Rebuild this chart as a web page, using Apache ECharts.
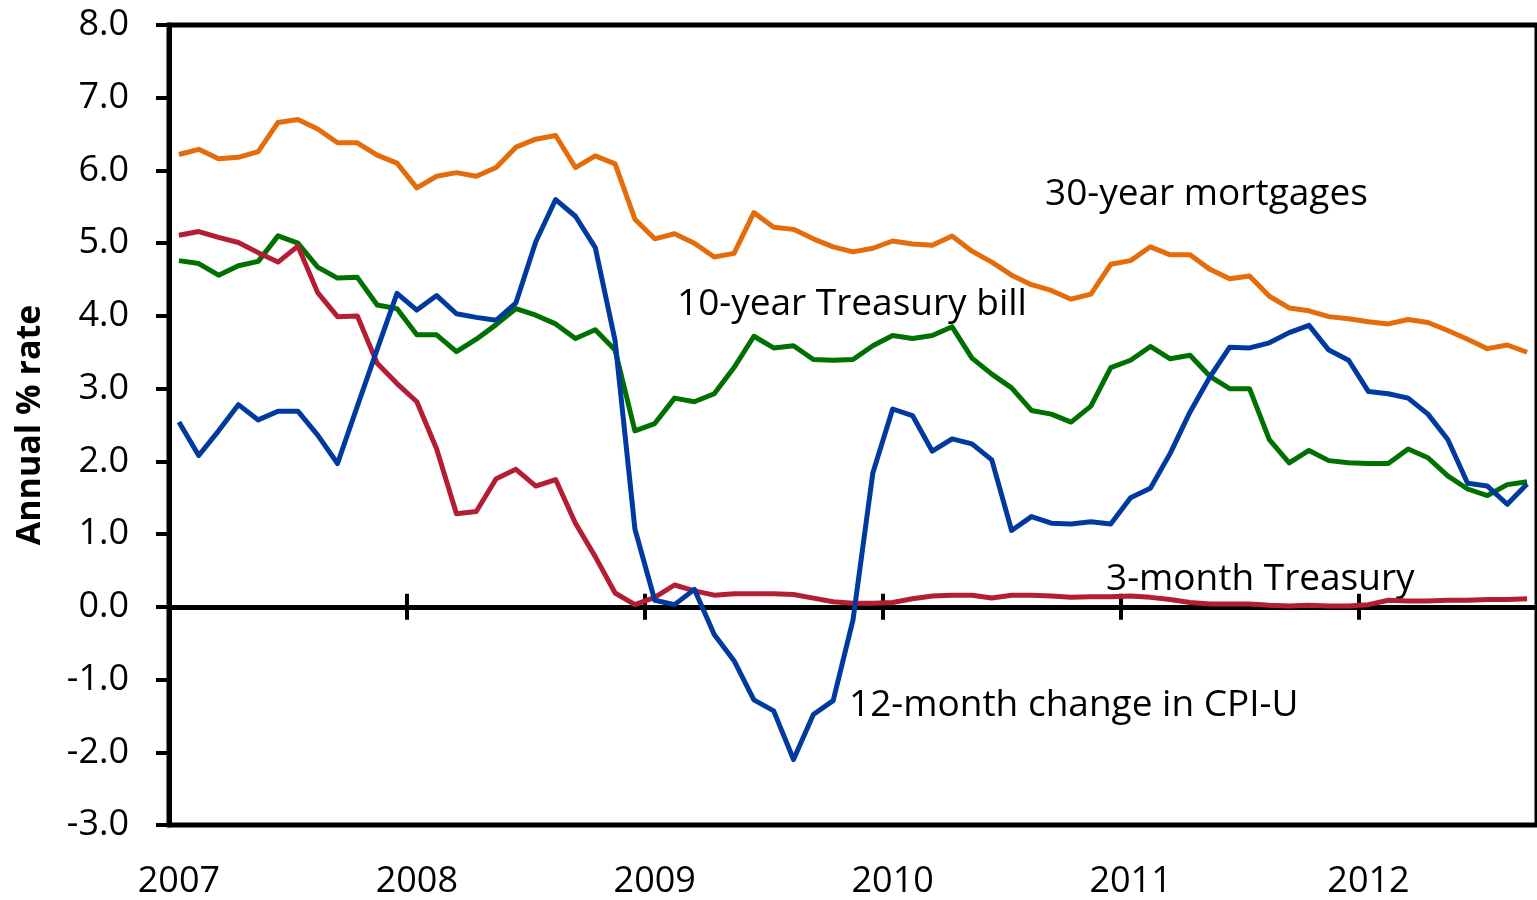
<!DOCTYPE html>
<html>
<head>
<meta charset="utf-8">
<script src="https://cdn.jsdelivr.net/npm/echarts@6/dist/echarts.min.js"></script>
<style>
    html, body { margin: 0; padding: 0; background: #fff; }
    #chart--rates { width: 1537px; height: 900px; }
</style>
</head>
<body>
<div id="chart--rates"></div>
<script>
const years = ['2007', '2008', '2009', '2010', '2011', '2012'];
const monthCount = 69;
const yTicks = { min: -3, max: 8, interval: 1 };

const mortgage30 = [
    6.22, 6.29, 6.16, 6.18, 6.26, 6.66, 6.70, 6.57, 6.38, 6.38, 6.21, 6.10,
    5.76, 5.92, 5.97, 5.92, 6.04, 6.32, 6.43, 6.48, 6.04, 6.20, 6.09, 5.33,
    5.06, 5.13, 5.00, 4.81, 4.86, 5.42, 5.22, 5.19, 5.06, 4.95, 4.88, 4.93,
    5.03, 4.99, 4.97, 5.10, 4.89, 4.74, 4.56, 4.43, 4.35, 4.23, 4.30, 4.71,
    4.76, 4.95, 4.84, 4.84, 4.64, 4.51, 4.55, 4.27, 4.11, 4.07, 3.99, 3.96,
    3.92, 3.89, 3.95, 3.91, 3.80, 3.68, 3.55, 3.60, 3.50
];
const treasury10 = [
    4.76, 4.72, 4.56, 4.69, 4.75, 5.10, 5.00, 4.67, 4.52, 4.53, 4.15, 4.10,
    3.74, 3.74, 3.51, 3.68, 3.88, 4.10, 4.01, 3.89, 3.69, 3.81, 3.53, 2.42,
    2.52, 2.87, 2.82, 2.93, 3.29, 3.72, 3.56, 3.59, 3.40, 3.39, 3.40, 3.59,
    3.73, 3.69, 3.73, 3.85, 3.42, 3.20, 3.01, 2.70, 2.65, 2.54, 2.76, 3.29,
    3.39, 3.58, 3.41, 3.46, 3.17, 3.00, 3.00, 2.30, 1.98, 2.15, 2.01, 1.98,
    1.97, 1.97, 2.17, 2.05, 1.80, 1.62, 1.53, 1.68, 1.72
];
const treasury3m = [
    5.11, 5.16, 5.08, 5.01, 4.87, 4.74, 4.96, 4.32, 3.99, 4.00, 3.35, 3.07,
    2.82, 2.17, 1.28, 1.31, 1.76, 1.89, 1.66, 1.75, 1.15, 0.69, 0.19, 0.03,
    0.13, 0.30, 0.22, 0.16, 0.18, 0.18, 0.18, 0.17, 0.12, 0.07, 0.05, 0.05,
    0.06, 0.11, 0.15, 0.16, 0.16, 0.12, 0.16, 0.16, 0.15, 0.13, 0.14, 0.14,
    0.15, 0.13, 0.10, 0.06, 0.04, 0.04, 0.04, 0.02, 0.01, 0.02, 0.01, 0.01,
    0.03, 0.09, 0.08, 0.08, 0.09, 0.09, 0.10, 0.10, 0.11
];
const cpiChange = [
    2.54, 2.08, 2.42, 2.78, 2.57, 2.69, 2.69, 2.36, 1.97, 2.76, 3.54, 4.31,
    4.08, 4.28, 4.03, 3.98, 3.94, 4.18, 5.02, 5.60, 5.37, 4.94, 3.66, 1.07,
    0.09, 0.03, 0.24, -0.38, -0.74, -1.28, -1.43, -2.10, -1.48, -1.29, -0.18, 1.84,
    2.72, 2.63, 2.14, 2.31, 2.24, 2.02, 1.05, 1.24, 1.15, 1.14, 1.17, 1.14,
    1.50, 1.63, 2.11, 2.68, 3.16, 3.57, 3.56, 3.63, 3.77, 3.87, 3.53, 3.39,
    2.96, 2.93, 2.87, 2.65, 2.30, 1.70, 1.66, 1.41, 1.69
];

const annotations = [
    { text: '30-year mortgages', x: 1045, y: 192 },
    { text: '10-year Treasury bill', x: 677, y: 302 },
    { text: '3-month Treasury', x: 1106, y: 577 },
    { text: '12-month change in CPI-U', x: 849, y: 703 }
];

const months = [];
for (let i = 0; i < monthCount; i++) {
    months.push(years[Math.floor(i / 12)] + '-' + String((i % 12) + 1).padStart(2, '0'));
}

const fontFamily = '"Open Sans", "Noto Sans", sans-serif';
const gridRect = { left: 169, top: 25, width: 1371, height: 800 };
// same plot, nudged up so its zero-line ticks straddle the real zero line
const tickGridRect = { left: 169, top: 12, width: 1371, height: 800 };

const chart = echarts.init(document.querySelector('#chart--rates'), null, { renderer: 'canvas' });

function lineSeries(name, data, color) {
    return {
        name,
        type: 'line',
        data,
        xAxisIndex: 0,
        yAxisIndex: 0,
        showSymbol: false,
        symbol: 'none',
        lineStyle: { color, width: 5, join: 'round' },
        itemStyle: { color },
        animation: false
    };
}

chart.setOption({
    animation: false,
    backgroundColor: '#fff',
    grid: [
        Object.assign({ show: true, borderColor: '#000', borderWidth: 5, backgroundColor: 'transparent' }, gridRect),
        Object.assign({ show: false }, tickGridRect)
    ],
    xAxis: [
        {
            // zero line
            type: 'category',
            gridIndex: 0,
            data: months,
            position: 'top',
            boundaryGap: true,
            axisLine: { onZero: true, lineStyle: { color: '#000', width: 5 } },
            axisTick: { show: false },
            axisLabel: { show: false },
            splitLine: { show: false }
        },
        {
            // year labels along the bottom
            type: 'category',
            gridIndex: 0,
            data: months,
            position: 'bottom',
            boundaryGap: true,
            axisLine: { show: false, onZero: false },
            axisTick: { show: false },
            axisLabel: {
                interval: 11,
                margin: 39,
                color: '#000',
                fontSize: 36,
                fontFamily,
                formatter: (value) => value.slice(0, 4)
            },
            splitLine: { show: false }
        },
        {
            // year ticks crossing the zero line
            type: 'category',
            gridIndex: 1,
            data: months,
            position: 'bottom',
            boundaryGap: true,
            axisLine: { show: false, onZero: true },
            axisTick: { show: true, interval: 11, inside: false, length: 26, lineStyle: { color: '#000', width: 4 } },
            axisLabel: { show: false },
            splitLine: { show: false }
        }
    ],
    yAxis: [
        {
            type: 'value',
            gridIndex: 0,
            min: yTicks.min,
            max: yTicks.max,
            interval: yTicks.interval,
            name: 'Annual % rate',
            nameLocation: 'middle',
            nameRotate: 90,
            nameGap: 122,
            nameTextStyle: { color: '#000', fontSize: 34, fontWeight: 'bold', fontFamily },
            axisLine: { show: true, onZero: false, lineStyle: { color: '#000', width: 5 } },
            axisTick: { show: true, inside: false, length: 13, lineStyle: { color: '#000', width: 4 } },
            axisLabel: {
                margin: 40,
                color: '#000',
                fontSize: 36,
                fontFamily,
                formatter: (value) => value.toFixed(1)
            },
            splitLine: { show: false }
        },
        {
            type: 'value',
            gridIndex: 1,
            min: yTicks.min,
            max: yTicks.max,
            interval: yTicks.interval,
            axisLine: { show: false, onZero: false },
            axisTick: { show: false },
            axisLabel: { show: false },
            splitLine: { show: false }
        }
    ],
    graphic: annotations.map((item) => ({
        type: 'text',
        left: item.x,
        top: item.y - 16,
        silent: true,
        style: {
            text: item.text,
            fill: '#000',
            font: '37px ' + fontFamily
        }
    })),
    series: [
        lineSeries('30-year mortgages', mortgage30, '#E46C0A'),
        lineSeries('10-year Treasury bill', treasury10, '#007000'),
        lineSeries('3-month Treasury', treasury3m, '#B41E34'),
        lineSeries('12-month change in CPI-U', cpiChange, '#003A9E')
    ]
});
</script>
</body>
</html>
